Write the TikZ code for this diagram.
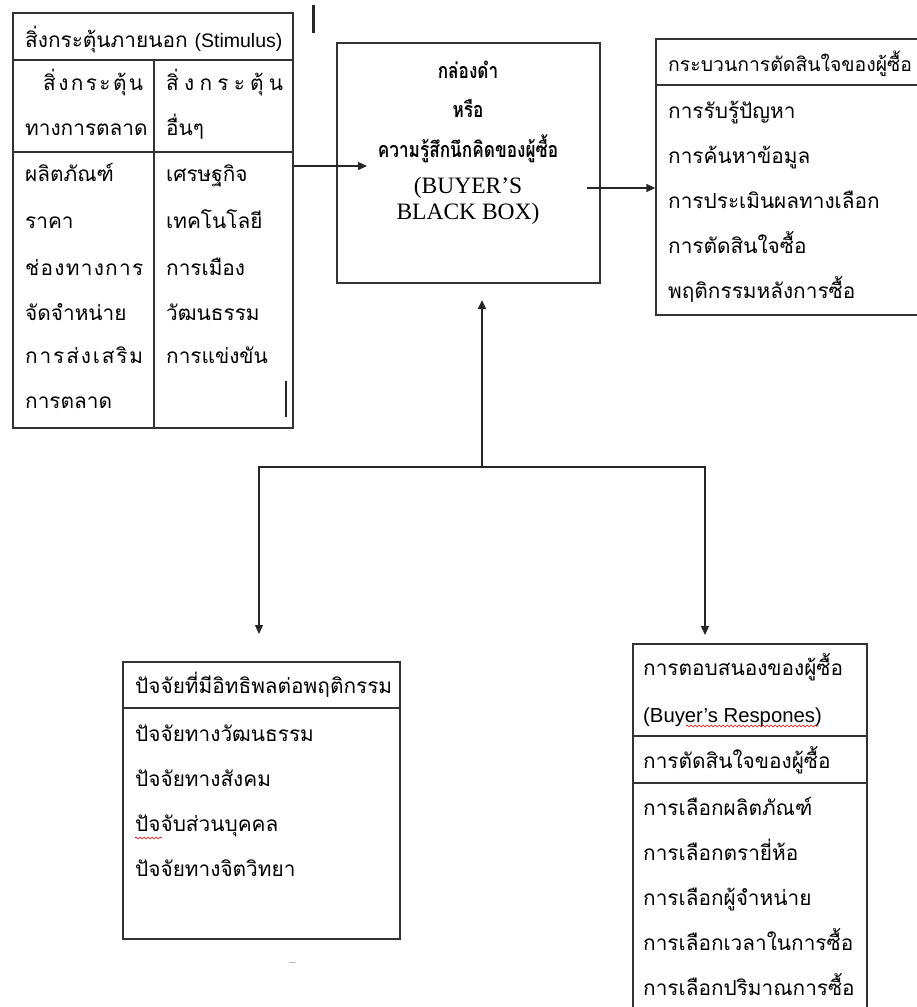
\documentclass[tikz,border=0pt]{standalone}
\usepackage{fontspec}
\setmainfont{Liberation Sans}
\newfontfamily\thaif[Script=Thai]{Loma}
\newfontfamily\thaicond[Script=Thai,FakeStretch=0.8]{Loma}
\newfontfamily\seriff{Liberation Serif}
\usetikzlibrary{arrows.meta,decorations.pathmorphing}
\newcommand\spreadtxt[2]{\hbox to #1pt{#2}}
\begin{document}
\begin{tikzpicture}[x=1pt,y=-1pt,
  box/.style={draw=black!80, line width=1.3pt, rectangle, inner sep=0pt},
  txt/.style={inner sep=0pt, anchor=base west, yshift=-8.5pt, font=\thaif\fontsize{20.8}{24}\selectfont},
  lat/.style={inner sep=0pt, anchor=base west, yshift=-7pt, font=\rmfamily\fontsize{20.3}{24}\selectfont},
  bbtxt/.style={inner sep=0pt, anchor=base, font=\thaicond\bfseries\fontsize{21.5}{24}\selectfont},
  bbser/.style={inner sep=0pt, anchor=base, font=\seriff\fontsize{23.5}{26}\selectfont},
  arr/.style={-{Triangle[length=9pt,width=8pt]}, line width=1.3pt, draw=black!85},
  rule/.style={draw=black!80, line width=1.3pt},
  wavy/.style={draw=red!85!black, line width=0.6pt, decorate, decoration={snake, amplitude=1pt, segment length=4pt}}]
\useasboundingbox (0,0) rectangle (917,1007);

% ---------- boxes ----------
\node[box, minimum width=280pt, minimum height=415pt] (stim) at (153,220.5) {};
\node[box, minimum width=263pt, minimum height=240pt] (black) at (468.5,163) {};
\node[box, minimum width=290pt, minimum height=276pt] (proc) at (801,177) {};
\node[box, minimum width=277pt, minimum height=277pt] (fact) at (261.5,800.5) {};
\node[box, minimum width=234pt, minimum height=400pt] (resp) at (750,844) {};

% internal rules
\draw[rule] (13,60) -- (293,60);
\draw[rule] (13,152) -- (293,152);
\draw[rule] (154,60) -- (154,428);
\draw[rule] (656,85) -- (946,85);
\draw[rule] (123,708) -- (400,708);
\draw[rule] (633,736) -- (867,736);
\draw[rule] (633,783) -- (867,783);

% ---------- stimulus table text ----------
\node[txt, yshift=-1.5pt] (s0) at (25,37) {สิ่งกระตุ้นภายนอก {\rmfamily\fontsize{19.5}{24}\selectfont(Stimulus)}};
\node[txt] (s1) at (43,82) {\spreadtxt{100}{สิ่\hfil ง\hfil ก\hfil ร\hfil ะ\hfil ตุ้\hfil น}};
\node[txt] (s2) at (166,82) {\spreadtxt{117}{สิ่\hfil ง\hfil ก\hfil ร\hfil ะ\hfil ตุ้\hfil น}};
\node[txt] (s3) at (25,127) {ทางการตลาด};
\node[txt] (s4) at (166,127) {อื่นๆ};
\node[txt] (l1) at (25,173) {ผลิตภัณฑ์};
\node[txt] (l2) at (25,220) {ราคา};
\node[txt] (l3) at (25,267) {\spreadtxt{118}{ช่\hfil อ\hfil ง\hfil ท\hfil า\hfil ง\hfil ก\hfil า\hfil ร}};
\node[txt] (l4) at (25,312) {จัดจำหน่าย};
\node[txt] (l5) at (25,355) {\spreadtxt{118}{ก\hfil า\hfil ร\hfil ส่\hfil ง\hfil เ\hfil ส\hfil ริ\hfil ม}};
\node[txt] (l6) at (25,400) {การตลาด};
\node[txt] (r1) at (166,173) {เศรษฐกิจ};
\node[txt] (r2) at (166,220) {เทคโนโลยี};
\node[txt] (r3) at (166,267) {การเมือง};
\node[txt] (r4) at (166,312) {วัฒนธรรม};
\node[txt] (r5) at (166,355) {การแข่งขัน};

% ---------- black box text ----------
\node[bbtxt] (b1) at (468,78) {กล่องดำ};
\node[bbtxt] (b2) at (468,117) {หรือ};
\node[bbtxt] (b3) at (468,157) {ความรู้สึกนึกคิดของผู้ซื้อ};
\node[bbser] (b4) at (468,193) {(BUYER’S};
\node[bbser] (b5) at (468,219) {BLACK BOX)};

% ---------- process box text ----------
\node[txt, font=\thaif\fontsize{19.4}{24}\selectfont] (p0) at (668,63) {กระบวนการตัดสินใจของผู้ซื้อ};
\node[txt] (p1) at (668,110) {การรับรู้ปัญหา};
\node[txt] (p2) at (668,155) {การค้นหาข้อมูล};
\node[txt] (p3) at (668,200) {การประเมินผลทางเลือก};
\node[txt] (p4) at (668,245) {การตัดสินใจซื้อ};
\node[txt] (p5) at (668,290) {พฤติกรรมหลังการซื้อ};

% ---------- factors box text ----------
\node[txt] (f0) at (135,685) {ปัจจัยที่มีอิทธิพลต่อพฤติกรรม};
\node[txt] (f1) at (135,733) {ปัจจัยทางวัฒนธรรม};
\node[txt] (f2) at (135,778) {ปัจจัยทางสังคม};
\node[txt] (f3) at (135,823) {ปัจจับส่วนบุคคล};
\node[txt] (f4) at (135,868) {ปัจจัยทางจิตวิทยา};

% ---------- response box text ----------
\node[txt] (q0) at (643,667) {การตอบสนองของผู้ซื้อ};
\node[lat] (q1) at (643,715) {(Buyer's Respones)};
\node[txt] (q2) at (643,760) {การตัดสินใจของผู้ซื้อ};
\node[txt] (q3) at (643,807) {การเลือกผลิตภัณฑ์};
\node[txt] (q4) at (643,852) {การเลือกตรายี่ห้อ};
\node[txt] (q5) at (643,897) {การเลือกผู้จำหน่าย};
\node[txt] (q6) at (643,942) {การเลือกเวลาในการซื้อ};
\node[txt] (q7) at (643,987) {การเลือกปริมาณการซื้อ};

% spell-check underlines
\draw[wavy] (135,838) -- (162,838);
\draw[wavy] (686,726) -- (818,726);

% ---------- connectors ----------
\coordinate (inA) at (367,166);
\draw[arr] (stim.east |- inA) -- (inA);
\coordinate (outB) at (587,188);
\draw[arr] (outB) -- (proc.west |- outB);
\coordinate (split) at (482,467);
\coordinate (upTip) at (482,300);
\draw[arr, line width=2.6pt] (split) -- (upTip);
\coordinate (tipL) at (259,634);
\coordinate (tipR) at (705,635);
\draw[arr] (split) -| (tipL);
\draw[arr] (split) -| (tipR);

% stray marks
\draw[line width=3pt, black!85] (313,5) -- (313,33);
\draw[line width=1.3pt, black!85] (286,381) -- (286,417);
\draw[line width=1pt, black!25] (289,962) -- (296,962);
\end{tikzpicture}
\end{document}
